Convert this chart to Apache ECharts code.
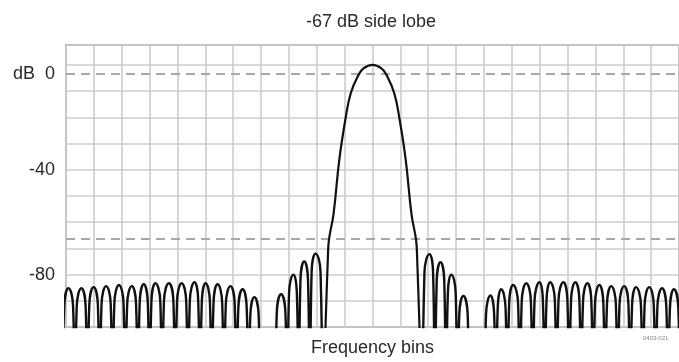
<!DOCTYPE html>
<html>
<head>
<meta charset="utf-8">
<script src="https://cdn.jsdelivr.net/npm/echarts@6/dist/echarts.min.js"></script>
<style>
html,body{margin:0;padding:0;background:#fff;}
#c{width:679px;height:362px;}
</style>
</head>
<body>
<div id="c"></div>
<script>
// ---- data (x in frequency bins, y in dB; -130 = deep null below the plot floor) ----
const titleText = '-67 dB side lobe';
const xName = 'Frequency bins';
const yLabelValues = [-3.4, -40, -80];
const yLabelTexts = ['dB  0', '-40', '-80'];
const dashedLevels = [-3.4, -66.5];

const leftLobes = [
  [-0.13,-130],[-0.065,-92.2],[0.09,-85.2],[0.255,-92.2],
  [0.32,-130],[0.385,-92.2],[0.55,-85.2],[0.705,-92.2],
  [0.77,-130],[0.835,-91.8],[0.99,-84.8],[1.145,-91.8],
  [1.21,-130],[1.275,-91.4],[1.44,-84.4],[1.605,-91.4],
  [1.67,-130],[1.735,-91.0],[1.90,-84.0],[2.065,-91.0],
  [2.13,-130],[2.195,-91.4],[2.36,-84.4],[2.515,-91.4],
  [2.58,-130],[2.645,-90.7],[2.79,-83.7],[2.935,-90.7],
  [3.00,-130],[3.065,-90.3],[3.21,-83.3],[3.385,-90.3],
  [3.45,-130],[3.515,-90.3],[3.69,-83.3],[3.855,-90.3],
  [3.92,-130],[3.985,-90.3],[4.15,-83.3],[4.315,-90.3],
  [4.38,-130],[4.445,-89.9],[4.61,-82.9],[4.745,-89.9],
  [4.81,-130],[4.875,-90.3],[5.01,-83.3],[5.165,-90.3],
  [5.23,-130],[5.295,-90.7],[5.44,-83.7],[5.605,-90.7],
  [5.67,-130],[5.735,-91.4],[5.90,-84.4],[6.055,-91.4],
  [6.12,-130],[6.185,-92.6],[6.34,-85.6],[6.485,-92.6],
  [6.55,-130],[6.615,-95.6],[6.76,-88.6],[6.915,-95.6],
  [6.98,-130],
  [7.50,-130],[7.565,-94.5],[7.72,-87.5],[7.875,-94.5],
  [7.94,-130],[8.005,-87.0],[8.16,-80.0],[8.285,-87.0],
  [8.35,-130],[8.415,-82.0],[8.55,-75.0],[8.685,-82.0],
  [8.75,-130],[8.815,-79.0],[8.96,-72.0],[9.135,-79.0],
  [9.20,-130]
];
const mainLobe = [
  [9.22,-130],[9.40,-73],[9.44,-66.5],[9.60,-57],[9.81,-36],[10.04,-20],[10.22,-10.8],[10.50,-3.8],
  [10.68,-1.3],[11.0,0],[11.32,-1.3],[11.50,-3.8],[11.78,-10.8],[11.96,-20],[12.19,-36],[12.40,-57],
  [12.56,-66.5],[12.60,-73],[12.78,-130]
];
const rightLobes = [
  [12.80,-130],[12.865,-79.2],[13.04,-72.2],[13.175,-79.2],
  [13.24,-130],[13.305,-82.3],[13.44,-75.3],[13.575,-82.3],
  [13.64,-130],[13.705,-87.0],[13.83,-80.0],[13.985,-87.0],
  [14.05,-130],[14.115,-95.2],[14.26,-88.2],[14.415,-95.2],
  [14.48,-130],
  [15.01,-130],[15.075,-95.0],[15.23,-88.0],[15.365,-95.0],
  [15.43,-130],[15.495,-92.6],[15.62,-85.6],[15.775,-92.6],
  [15.84,-130],[15.905,-91.0],[16.05,-84.0],[16.225,-91.0],
  [16.29,-130],[16.355,-90.3],[16.52,-83.3],[16.685,-90.3],
  [16.75,-130],[16.815,-89.9],[16.99,-82.9],[17.115,-89.9],
  [17.18,-130],[17.245,-89.9],[17.38,-82.9],[17.545,-89.9],
  [17.61,-130],[17.675,-89.9],[17.85,-82.9],[17.995,-89.9],
  [18.06,-130],[18.125,-89.9],[18.28,-82.9],[18.425,-89.9],
  [18.49,-130],[18.555,-90.3],[18.71,-83.3],[18.855,-90.3],
  [18.92,-130],[18.985,-91.0],[19.14,-84.0],[19.285,-91.0],
  [19.35,-130],[19.415,-91.4],[19.57,-84.4],[19.735,-91.4],
  [19.80,-130],[19.865,-91.4],[20.03,-84.4],[20.185,-91.4],
  [20.25,-130],[20.315,-91.8],[20.46,-84.8],[20.635,-91.8],
  [20.70,-130],[20.765,-91.8],[20.93,-84.8],[21.095,-91.8],
  [21.16,-130],[21.225,-92.2],[21.39,-85.2],[21.545,-92.2],
  [21.61,-130],[21.675,-92.6],[21.82,-85.6],[21.975,-92.6],
  [22.04,-130]
];

const chart = echarts.init(document.getElementById('c'), null, {renderer:'canvas'});
const FONT = '"Liberation Sans", Arial, Helvetica, sans-serif';
function lineSeries(data, smooth, width, withMarks){
  const s = {
    type:'line', data:data, smooth:smooth, symbol:'none', clip:true,
    lineStyle:{color:'#111', width:width}, itemStyle:{color:'#111'}, z:5
  };
  if (withMarks) {
    s.markLine = {
      silent:true, symbol:'none', label:{show:false}, animation:false,
      lineStyle:{color:'#a8a8a8', width:2, type:[9,6]},
      data: dashedLevels.map(v => ({yAxis:v}))
    };
  }
  return s;
}
chart.setOption({
  animation:false,
  backgroundColor:'#fff',
  grid:{left:66, right:-3, top:45, bottom:34, show:true, borderColor:'#a8a8a8', borderWidth:2, backgroundColor:'transparent'},
  xAxis:{
    type:'value', min:0, max:22, interval:1,
    axisLine:{show:false}, axisTick:{show:false}, axisLabel:{show:false},
    splitLine:{show:true, lineStyle:{color:'#cccccc', width:1.6}},
    name:xName, nameLocation:'middle', nameGap:12,
    nameTextStyle:{fontFamily:FONT, fontSize:18, color:'#2a2a2a'}
  },
  yAxis:{
    type:'value', min:-100, max:7.6, interval:10,
    axisLine:{show:false}, axisTick:{show:false},
    splitLine:{show:true, lineStyle:{color:'#cccccc', width:1.6}},
    axisLabel:{
      customValues:yLabelValues,
      formatter:function(v){
        const i = yLabelValues.findIndex(t => Math.abs(t - v) < 1e-6);
        return i >= 0 ? yLabelTexts[i] : '';
      },
      fontFamily:FONT, fontSize:18, color:'#2a2a2a', margin:11
    }
  },
  graphic:[
    {type:'text', x:371, y:22, style:{text:titleText, fontFamily:FONT, fontSize:18, fill:'#2a2a2a', align:'center', verticalAlign:'middle'}},
    {type:'text', x:643, y:338, style:{text:'0403-021', fontFamily:FONT, fontSize:6, fill:'#888', align:'left', verticalAlign:'middle'}}
  ],
  series:[
    lineSeries(leftLobes, 0.5, 2.4, true),
    lineSeries(mainLobe, 0.45, 2.2, false),
    lineSeries(rightLobes, 0.5, 2.4, false)
  ]
});
</script>
</body>
</html>
